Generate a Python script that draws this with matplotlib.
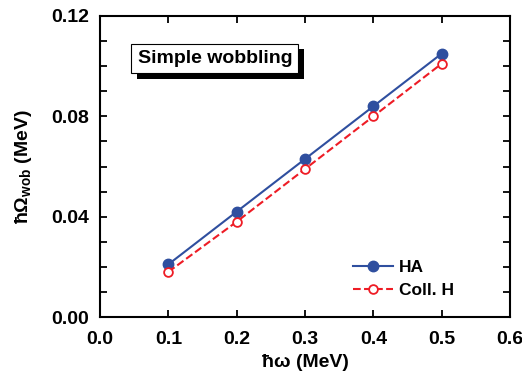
import matplotlib
matplotlib.use('Agg')
import matplotlib.pyplot as plt
import matplotlib.patheffects as pe
from matplotlib.ticker import MultipleLocator

# data
omega = [0.1, 0.2, 0.3, 0.4, 0.5]
ha = [0.021, 0.042, 0.063, 0.084, 0.105]
coll_h = [0.018, 0.038, 0.059, 0.080, 0.101]

plt.rcParams['font.family'] = ['Liberation Sans', 'DejaVu Sans']
plt.rcParams['font.weight'] = 'bold'
plt.rcParams['axes.labelweight'] = 'bold'
plt.rcParams['mathtext.fontset'] = 'custom'
plt.rcParams['mathtext.rm'] = 'Liberation Sans:bold'
plt.rcParams['mathtext.it'] = 'Liberation Sans:bold'
plt.rcParams['mathtext.bf'] = 'Liberation Sans:bold'


def main():
    fig = plt.figure(figsize=(5.22, 3.77), dpi=100)
    ax = fig.add_axes([0.1916, 0.159, 0.977 - 0.1916, 0.9576 - 0.159])

    blue = '#2f4f9f'
    red = '#ee1c25'
    ax.plot(omega, ha, '-o', color=blue, lw=1.5, ms=7.5, label='HA')
    ax.plot(omega, coll_h, '--o', color=red, lw=1.5, ms=6.3,
            mfc='white', mec=red, mew=1.3, label='Coll. H')

    ax.set_xlim(0.0, 0.6)
    ax.set_ylim(0.0, 0.12)
    ax.xaxis.set_major_locator(MultipleLocator(0.1))
    ax.yaxis.set_major_locator(MultipleLocator(0.04))
    ax.yaxis.set_minor_locator(MultipleLocator(0.01))
    ax.xaxis.set_major_formatter(plt.FormatStrFormatter('%.1f'))
    ax.yaxis.set_major_formatter(plt.FormatStrFormatter('%.2f'))
    ax.tick_params(which='both', direction='in', top=True, right=True,
                   width=1.3, labelsize=14)
    ax.tick_params(which='major', length=5)
    ax.tick_params(which='minor', length=5)
    ax.tick_params(axis='x', pad=10)
    ax.tick_params(axis='y', pad=8)
    for s in ax.spines.values():
        s.set_linewidth(1.5)

    ax.set_xlabel('ħω (MeV)', fontsize=14, labelpad=4)
    ax.set_ylabel(r'ħΩ$_{\mathregular{wob}}$ (MeV)', fontsize=14, labelpad=12)

    t = ax.text(0.055, 0.1031, 'Simple wobbling', fontsize=14,
                transform=ax.transData, va='center', ha='left',
                bbox=dict(boxstyle='square,pad=0.32', fc='white',
                          ec='black', lw=0.8))
    fig.canvas.draw()
    t.get_bbox_patch().set_path_effects(
        [pe.SimplePatchShadow(offset=(4, -4), shadow_rgbFace='black', alpha=1.0),
         pe.Normal()])

    ax.legend(loc='lower left', bbox_to_anchor=(0.618, 0.062), frameon=False,
              fontsize=12.5, handlelength=2.3, handletextpad=0.3,
              labelspacing=0.45, borderpad=0, borderaxespad=0)

    fig.savefig('out.png', dpi=100)


if __name__ == '__main__':
    main()
